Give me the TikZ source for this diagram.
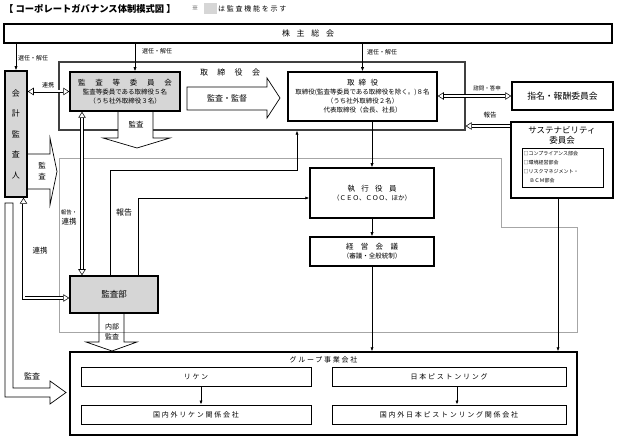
\documentclass[tikz,border=0pt]{standalone}
\usepackage{fontspec}
\setmainfont{Noto Sans CJK JP}
\newfontfamily\trackfont[LetterSpace=25]{Noto Sans CJK JP}
\usetikzlibrary{arrows.meta}

\newcommand{\spread}[2]{\makebox[#1][s]{#2}}

\tikzset{
  box/.style={draw, line width=1.5pt, inner sep=0pt, align=center},
  thinbox/.style={draw, line width=1pt, inner sep=0pt, align=center,
    font=\trackfont\fontsize{7}{8}\selectfont},
  audit/.style={fill=black!16},
  lbl/.style={inner sep=0pt, align=center},
  sz55/.style={font=\fontsize{5.5}{7}\selectfont},
  sz6/.style={font=\fontsize{6}{7}\selectfont},
  sz65/.style={font=\fontsize{6.5}{9}\selectfont},
  sz75/.style={font=\fontsize{7.5}{9}\selectfont},
  sz8/.style={font=\fontsize{8}{10}\selectfont},
  sz85/.style={font=\fontsize{8.5}{10}\selectfont},
  otri/.tip={Triangle[open, length=6pt, width=7.5pt, line width=0.55pt]},
  link/.style={line width=0.7pt, -{Latex[length=4pt, width=3.2pt]}},
  dlink/.style={draw=black, double=white, double distance=2pt, line width=0.55pt},
  hollow/.style={draw, line width=0.7pt, fill=white},
}

\begin{document}
\begin{tikzpicture}[x=1pt, y=-1pt]
\useasboundingbox (0,0) rectangle (618,438);

% heading and legend
\node[lbl, anchor=west, font=\fontsize{9.3}{11}\selectfont\bfseries] (title) at (4,8.5) {【 コーポレートガバナンス体制模式図 】};
\node[lbl, sz65] (kome) at (195,8.5) {※};
\node[audit, minimum width=13, minimum height=11, inner sep=0pt] (legend) at (210.5,8.5) {};
\node[lbl, anchor=west, font=\trackfont\fontsize{7}{8}\selectfont] (legendtxt) at (218,8.5) {は監査機能を示す};

% execution area
\draw[black!35, line width=0.9pt] (59,158) -- (501,158) -- (501,227) -- (577,227) -- (577,332) -- (59,332) -- cycle;

% board of directors frame
\node[draw=black!75, line width=1.3pt, minimum width=406, minimum height=68, inner sep=0pt] (torikai) at (262,96) {};
\node[lbl, sz8] (torikailbl) at (230,72) {\spread{60pt}{取\hfill 締\hfill 役\hfill 会}};

% big hollow arrows
\path[hollow] (187,87) -- (267,87) -- (267,78) -- (280,98) -- (267,118) -- (267,110) -- (187,110) -- cycle;
\node[lbl, sz8] (kantoku) at (227,98.5) {監査・監督};
\path[hollow] (118,111) -- (118,138) -- (103,138) -- (137,148) -- (170,138) -- (153,138) -- (153,111);
\node[lbl, sz75] (iinkansa) at (136,125) {監査};
\path[hollow] (27,154) -- (50,154) -- (50,138) -- (57,171.5) -- (50,205) -- (50,189) -- (27,189);
\node[lbl, font=\fontsize{7.5}{11}\selectfont] (kaikeikansa) at (42,171.5) {監\\査};
\path[hollow] (5,203) -- (5,397) -- (50,397) -- (50,404) -- (66,392.5) -- (50,381) -- (50,388) -- (13,388) -- (13,203) -- cycle;
\node[lbl, sz8] (groupkansa) at (32,376) {監査};
\path[draw, line width=0.7pt] (99,313) -- (99,342) -- (86,342) -- (112,351) -- (137,342) -- (124,342) -- (124,313);
\node[lbl, font=\fontsize{7}{10}\selectfont] (naibu) at (112,332) {内部\\監査};

% boxes
\node[box, minimum width=608, minimum height=19, sz8] (sh) at (308,33.5) {\spread{52pt}{株\hfill 主\hfill 総\hfill 会}};
\node[box, audit, minimum width=22, minimum height=126, font=\fontsize{8}{20.5}\selectfont] (kaikei) at (16,134) {会\\計\\監\\査\\人};
\node[box, audit, minimum width=110, minimum height=39, sz65] (kansaiin) at (125,91.5)
  {{\fontsize{7.5}{9}\selectfont\spread{94pt}{監\hfill 査\hfill 等\hfill 委\hfill 員\hfill 会}}\\監査等委員である取締役５名\\（うち社外取締役３名）};
\node[box, minimum width=149, minimum height=49, sz65] (torishimari) at (362.5,96.5)
  {{\fontsize{7.5}{9}\selectfont\spread{31pt}{取\hfill 締\hfill 役}}\\取締役(監査等委員である取締役を除く。)８名\\（うち社外取締役２名）\\代表取締役（会長、社長）};
\node[box, minimum width=101, minimum height=28, font=\fontsize{8.8}{10}\selectfont] (shimei) at (562.5,96) {指名・報酬委員会};
\node[box, minimum width=102, minimum height=76] (sustain) at (562,160) {};
\node[lbl, sz85] (sustainttl) at (562,135) {サステナビリティ\\委員会};
\node[draw, line width=0.8pt, minimum height=39, text width=78pt, inner sep=1.5pt, align=left,
  font=\fontsize{5}{9}\selectfont] (bukai) at (562.5,167.5)
  {□コンプライアンス部会\\□環境経営部会\\□リスクマネジメント・\\\hspace*{6pt}ＢＣＭ部会};
\node[box, minimum width=124, minimum height=50, sz65] (shikko) at (372,193)
  {{\fontsize{7.5}{9}\selectfont\spread{49pt}{執\hfill 行\hfill 役\hfill 員}}\\（ＣＥＯ、ＣＯＯ、ほか）};
\node[box, minimum width=124, minimum height=29, sz65] (keiei) at (372,251.5)
  {{\fontsize{7.5}{9}\selectfont\spread{52pt}{経\hfill 営\hfill 会\hfill 議}}\\（審議・全般統制）};
\node[box, audit, minimum width=88, minimum height=37, sz85] (kansabu) at (114,294.5) {監査部};
\node[box, minimum width=507, minimum height=83] (group) at (323.5,393.5) {};
\node[lbl, font=\trackfont\fontsize{7}{8}\selectfont] (grouplbl) at (323.5,360) {グループ事業会社};
\node[thinbox, minimum width=230, minimum height=19] (riken) at (196,376.5) {リケン};
\node[thinbox, minimum width=234, minimum height=19] (npr) at (449,376.5) {日本ピストンリング};
\node[thinbox, minimum width=230, minimum height=19] (rikenkan) at (196,414.5) {国内外リケン関係会社};
\node[thinbox, minimum width=234, minimum height=19] (nprkan) at (449,414.5) {国内外日本ピストンリング関係会社};

% appointment lines
\coordinate (selA) at (135,0);
\draw[link] (sh.south -| kaikei.north) -- (kaikei.north);
\draw[link] (sh.south -| selA) -- (kansaiin.north -| selA);
\draw[link] (sh.south -| torishimari.north) -- (torishimari.north);
\node[lbl, sz6] (selAlbl) at (33,58) {選任・解任};
\node[lbl, sz6] (selBlbl) at (157,51) {選任・解任};
\node[lbl, sz6] (selClbl) at (382,52) {選任・解任};

% cooperation links
\coordinate (renkei) at (23.5,298);
\coordinate (hr) at (82,0);
\coordinate (sr) at (0,126);
\draw[dlink, otri-otri] (kaikei.east |- kansaiin.west) -- (kansaiin.west);
\draw[dlink, otri-otri] (kaikei.south -| renkei) |- (kansabu.west |- renkei);
\draw[dlink, otri-otri] (kansaiin.south -| hr) -- (kansabu.north -| hr);
\draw[dlink, otri-otri] (torishimari.east |- shimei.west) -- (shimei.west);
\draw[dlink, -otri] (sustain.west |- sr) -- (torikai.east |- sr);
\node[lbl, sz6] (renkeiA) at (48,85) {連携};
\node[lbl, sz75] (renkeiB) at (40,251) {連携};
\node[lbl, font=\fontsize{7.5}{10}\selectfont] (hokokurenkei) at (69,218) {{\fontsize{5.5}{7}\selectfont 報告・}\\連携};
\node[lbl, sz55] (shimon) at (487,88) {諮問・答申};
\node[lbl, sz65] (susrep) at (490,115.5) {報告};

% reporting and command lines
\coordinate (rep1) at (110,170.5);
\coordinate (rep2) at (297,170.5);
\coordinate (rep3) at (138,198);
\coordinate (sg) at (558,0);
\coordinate (rk) at (201,0);
\coordinate (np) at (457,0);
\draw[link] (kansabu.north -| rep1) -- (rep1) -- (rep2) -- (torikai.south -| rep2);
\draw[link] (kansabu.north -| rep3) -- (rep3) -- (shikko.west |- rep3);
\node[lbl, sz8] (hokoku) at (124,212) {報告};
\draw[link] (torishimari.south -| shikko.north) -- (shikko.north);
\draw[link] (shikko.south) -- (keiei.north);
\draw[link] (keiei.south) -- (keiei.south |- group.north);
\draw[link] (sustain.south -| sg) -- (group.north -| sg);
\draw[link] (riken.south -| rk) -- (rikenkan.north -| rk);
\draw[link] (npr.south -| np) -- (nprkan.north -| np);
\end{tikzpicture}
\end{document}
